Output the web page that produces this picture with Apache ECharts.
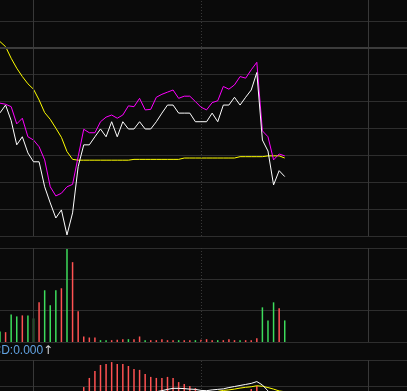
<!DOCTYPE html>
<html>
<head>
<meta charset="utf-8">
<script src="https://cdn.jsdelivr.net/npm/echarts@6/dist/echarts.min.js"></script>
<style>
html,body{margin:0;padding:0;background:#0a0a0a;}
#c{width:407px;height:391px;}
</style>
</head>
<body>
<div id="c"></div>
<script>
// ---- data (index = time slot) ----
const slots = [0,1,2,3,4,5,6,7,8,9,10,11,12,13,14,15,16,17,18,19,20,21,22,23,24,25,26,27,28,29,30,31,32,33,34,35,36,37,38,39,40,41,42,43,44,45,46,47,48,49,50,51];
const priceLine = [4.58,4.87,4.29,3.39,3.69,3.09,2.76,2.76,1.83,1.23,0.67,0.97,0.04,0.86,2.58,3.39,3.39,3.69,3.98,3.69,4.25,3.69,4.25,3.98,3.98,4.25,3.98,3.98,4.25,4.57,4.87,4.87,4.57,4.57,4.57,4.25,4.25,4.25,4.57,4.25,4.87,4.87,5.16,4.87,5.16,5.43,6.08,3.57,3.16,1.90,2.43,2.21];
const avgLine = [4.94,4.90,4.81,4.17,4.38,3.69,3.57,3.32,2.83,1.83,1.49,1.59,1.83,1.92,2.95,3.97,3.84,3.84,4.25,4.42,4.50,4.38,4.50,4.84,4.81,5.12,4.69,4.71,5.16,5.27,5.35,5.43,5.12,5.20,5.20,5.00,4.79,4.69,4.96,5.03,5.56,5.46,5.62,5.93,5.87,6.18,6.46,3.91,3.69,2.83,3.05,2.98];
const maLine = [7.23,7.04,6.61,6.24,5.93,5.66,5.46,5.06,4.59,4.34,4.01,3.67,3.14,2.85,2.82,2.82,2.82,2.82,2.82,2.82,2.82,2.82,2.82,2.82,2.85,2.85,2.85,2.85,2.85,2.85,2.85,2.85,2.85,2.90,2.90,2.90,2.90,2.90,2.90,2.90,2.90,2.90,2.90,2.95,2.95,2.95,2.95,2.95,2.98,2.98,2.98,2.90];
const volume = [337,314,881,817,849,849,753,1266,1651,1170,1651,1715,2965,2548,978,176,144,144,58,58,58,70,90,90,90,176,58,58,58,90,58,58,58,58,58,58,70,90,58,58,58,90,58,58,58,58,122,1106,689,1266,1074,689];
const volDir = [-1,1,-1,-1,1,-1,-1,1,-1,-1,-1,1,-1,1,1,1,1,1,-1,-1,1,1,1,-1,1,1,-1,1,1,1,1,1,-1,1,1,-1,1,1,1,-1,1,1,1,-1,1,1,1,-1,-1,-1,1,-1];
const macdBar = [-0.3,-0.4,-0.6,-0.8,-0.9,-1.0,-1.1,-1.2,-1.3,-1.2,-1.0,-0.8,-0.5,-0.2,0.3,0.96,1.31,1.58,1.81,1.85,1.92,1.85,1.85,1.77,1.65,1.62,1.46,1.35,1.31,1.31,1.35,1.31,1.15,1.08,1.0,0.92,0.78,0.72,0.66,0.6,0.58,0.62,0.66,0.7,0.76,0.88,1.0,0.5,-0.2,-0.8,-1.0,-1.1];
const dif = [-0.5,-0.6,-0.8,-1.0,-1.1,-1.3,-1.4,-1.6,-1.8,-1.9,-2.0,-2.0,-1.9,-1.7,-1.3,-0.9,-0.6,-0.3,-0.1,0.1,0.25,0.35,0.45,0.5,0.58,0.65,0.7,0.75,0.78,0.82,0.87,0.91,0.91,0.90,0.88,0.87,0.83,0.82,0.85,0.87,0.89,0.94,0.98,1.02,1.06,1.10,1.17,1.04,0.81,0.6,0.5,0.45];
const dea = [-0.2,-0.3,-0.4,-0.5,-0.6,-0.7,-0.8,-0.9,-1.0,-1.1,-1.2,-1.3,-1.35,-1.4,-1.4,-1.35,-1.3,-1.2,-1.1,-1.0,-0.9,-0.75,-0.6,-0.45,-0.3,-0.15,0,0.1,0.2,0.3,0.38,0.45,0.52,0.58,0.63,0.68,0.72,0.75,0.77,0.79,0.83,0.85,0.88,0.92,0.95,0.97,1.01,0.99,0.94,0.88,0.81,0.78];
const sessionMarks = [6, 36, 66];   // day open, midday, next day open
const refLevel = 7;
const macdLabel = 'MACD:0.000';

// ---- build ----
const RED = '#ff5252', GREEN = '#3ddc5c', GRID = '#2e2e2e';
const pairs = arr => slots.map((s, i) => [s, arr[i]]);
const vLines = sessionMarks.map((v, k) => ({
  xAxis: v,
  lineStyle: { color: '#383838', width: 1, type: k === 1 ? [1, 2] : 'solid' }
}));
const mk = (extra) => ({
  silent: true, symbol: ['none', 'none'], label: { show: false },
  animation: false, data: vLines.concat(extra || [])
});
const xAx = (gi) => ({
  type: 'value', gridIndex: gi, min: 0, max: 72.9,
  show: false, splitLine: { show: false }
});
const yAx = (gi, min, max, interval) => ({
  type: 'value', gridIndex: gi, min, max, interval,
  axisLine: { show: false }, axisTick: { show: false }, axisLabel: { show: false },
  splitLine: { show: true, showMinLine: true, showMaxLine: true, lineStyle: { color: GRID, width: 1 } }
});

const chart = echarts.init(document.getElementById('c'), null, { renderer: 'canvas' });
chart.setOption({
  backgroundColor: '#0a0a0a',
  animation: false,
  grid: [
    { left: 0, right: 0, top: -6, height: 242, outerBoundsMode: 'none', containLabel: false },
    { left: 0, right: 0, top: 248, height: 94, outerBoundsMode: 'none', containLabel: false },
    { left: 0, right: 0, top: 360, height: 104, outerBoundsMode: 'none', containLabel: false }
  ],
  xAxis: [xAx(0), xAx(1), xAx(2)],
  yAxis: [yAx(0, 0, 9, 1), yAx(1, 0, 3000, 1000), yAx(2, -2, 2, 1)],
  graphic: [
    { type: 'text', x: -25.5, y: 351, style: { text: macdLabel, fill: '#62a2e0', font: '12px "Liberation Sans", Arial, sans-serif', verticalAlign: 'middle' } },
    { type: 'text', x: 43, y: 351, style: { text: '\u2191', fill: '#d8d8d8', font: '12px "DejaVu Sans", sans-serif', verticalAlign: 'middle' } }
  ],
  series: [
    { type: 'line', xAxisIndex: 0, yAxisIndex: 0, data: pairs(maLine), symbol: 'none',
      lineStyle: { color: '#ffff00', width: 1 }, z: 3,
      markLine: mk([{ yAxis: refLevel, lineStyle: { color: '#3c3c3c', width: 2, type: 'solid' } }]) },
    { type: 'line', xAxisIndex: 0, yAxisIndex: 0, data: pairs(avgLine), symbol: 'none',
      lineStyle: { color: '#ff00ff', width: 1 }, z: 4 },
    { type: 'line', xAxisIndex: 0, yAxisIndex: 0, data: pairs(priceLine), symbol: 'none',
      lineStyle: { color: '#ffffff', width: 1 }, z: 5 },
    { type: 'bar', xAxisIndex: 1, yAxisIndex: 1, barWidth: 1.5,
      data: slots.map((s, i) => ({ value: [s, volume[i]], itemStyle: { color: volDir[i] > 0 ? RED : GREEN } })),
      markLine: mk() },
    { type: 'bar', xAxisIndex: 2, yAxisIndex: 2, barWidth: 1.5,
      data: slots.map((s, i) => ({ value: [s, macdBar[i]], itemStyle: { color: macdBar[i] >= 0 ? RED : GREEN } })),
      markLine: mk() },
    { type: 'line', xAxisIndex: 2, yAxisIndex: 2, data: pairs(dea), symbol: 'none',
      lineStyle: { color: '#ffff00', width: 1 }, z: 4 },
    { type: 'line', xAxisIndex: 2, yAxisIndex: 2, data: pairs(dif), symbol: 'none',
      lineStyle: { color: '#ffffff', width: 1 }, z: 5 }
  ]
});
</script>
</body>
</html>
